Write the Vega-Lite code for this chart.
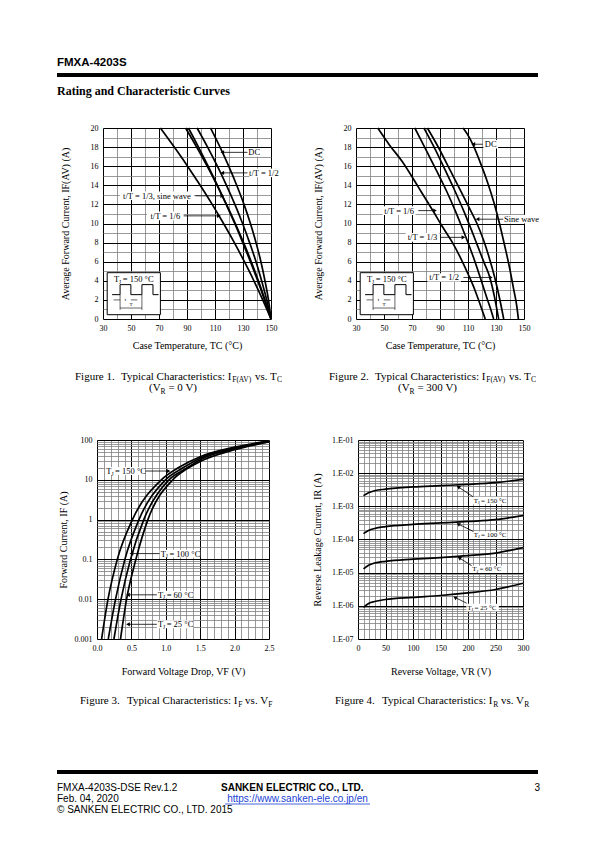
{
"$schema": "https://vega.github.io/schema/vega-lite/v6.json",
"background": "white",
"padding": 0,
"autosize": {"type": "pad"},
"bounds": "full",
"spacing": 0,
"config": {
  "view": {"stroke": null},
  "font": "Liberation Serif",
  "axis": {"labelFont": "Liberation Serif", "titleFont": "Liberation Serif", "labelFontSize": 8, "titleFontSize": 10, "titleFontWeight": "normal", "labelColor": "black", "titleColor": "black", "ticks": false, "domain": false, "gridOpacity": 1, "labelPadding": 5, "labelOverlap": false, "labelFlush": false},
  "text": {"color": "black"},
  "line": {"color": "black"},
  "rule": {"color": "black"},
  "point": {"color": "black"}
},
"datasets": {
  "c1": [
    {"s":"1/6","x":71.0,"y":20},{"s":"1/6","x":80.9,"y":18},{"s":"1/6","x":90.4,"y":16},{"s":"1/6","x":99.4,"y":14},{"s":"1/6","x":108.0,"y":12},{"s":"1/6","x":116.1,"y":10},{"s":"1/6","x":123.8,"y":8},{"s":"1/6","x":131.0,"y":6},{"s":"1/6","x":137.8,"y":4},{"s":"1/6","x":144.1,"y":2},{"s":"1/6","x":150,"y":0},
    {"s":"1/3","x":89.0,"y":20},{"s":"1/3","x":96.9,"y":18},{"s":"1/3","x":104.4,"y":16},{"s":"1/3","x":111.5,"y":14},{"s":"1/3","x":118.2,"y":12},{"s":"1/3","x":124.5,"y":10},{"s":"1/3","x":130.4,"y":8},{"s":"1/3","x":135.9,"y":6},{"s":"1/3","x":141.0,"y":4},{"s":"1/3","x":145.7,"y":2},{"s":"1/3","x":150,"y":0},
    {"s":"sine","x":91.0,"y":20},{"s":"sine","x":98.2,"y":18},{"s":"sine","x":105.1,"y":16},{"s":"sine","x":111.7,"y":14},{"s":"sine","x":118.0,"y":12},{"s":"sine","x":124.1,"y":10},{"s":"sine","x":129.8,"y":8},{"s":"sine","x":135.3,"y":6},{"s":"sine","x":140.5,"y":4},{"s":"sine","x":145.4,"y":2},{"s":"sine","x":150,"y":0},
    {"s":"1/2","x":97.2,"y":20},{"s":"1/2","x":104.7,"y":18},{"s":"1/2","x":111.7,"y":16},{"s":"1/2","x":118.2,"y":14},{"s":"1/2","x":124.2,"y":12},{"s":"1/2","x":129.7,"y":10},{"s":"1/2","x":134.7,"y":8},{"s":"1/2","x":139.3,"y":6},{"s":"1/2","x":143.3,"y":4},{"s":"1/2","x":146.9,"y":2},{"s":"1/2","x":150,"y":0},
    {"s":"DC","x":106.8,"y":20},{"s":"DC","x":113.6,"y":18},{"s":"DC","x":119.8,"y":16},{"s":"DC","x":125.5,"y":14},{"s":"DC","x":130.7,"y":12},{"s":"DC","x":135.3,"y":10},{"s":"DC","x":139.3,"y":8},{"s":"DC","x":142.8,"y":6},{"s":"DC","x":145.7,"y":4},{"s":"DC","x":148.2,"y":2},{"s":"DC","x":150,"y":0}
  ],
  "b1": [
    {"x":133.5,"x2":143,"y":17.0,"y2":17.9},
    {"x":134.5,"x2":155.5,"y":14.85,"y2":15.75},
    {"x":42,"x2":95,"y":12.45,"y2":13.35},
    {"x":61.5,"x2":87.5,"y":10.35,"y2":11.25}
  ],
  "a1": [
    {"x":115.2,"y":17.45,"x2":133.2,"y2":17.45,"d":"L"},
    {"x":115.2,"y":15.3,"x2":133.2,"y2":15.3,"d":"L"},
    {"x":115.2,"y":12.9,"x2":96,"y2":12.9,"d":"R"},
    {"x":112.8,"y":10.8,"x2":87.6,"y2":10.8,"d":"R"}
  ],
  "l1": [
    {"x":138,"y":17.45,"t":"DC"},
    {"x":144.9,"y":15.3,"t":"t/T = 1/2"},
    {"x":68.5,"y":12.9,"t":"t/T = 1/3, sine wave"},
    {"x":74.5,"y":10.8,"t":"t/T = 1/6"}
  ],
  "c2": [
    {"s":"1/6","x":45.5,"y":20},{"s":"1/6","x":54,"y":18.2},{"s":"1/6","x":63,"y":16.5},{"s":"1/6","x":75,"y":13.7},{"s":"1/6","x":85.5,"y":11.2},{"s":"1/6","x":92,"y":9.6},{"s":"1/6","x":98.5,"y":8.1},{"s":"1/6","x":105,"y":6.3},{"s":"1/6","x":110.4,"y":4.6},{"s":"1/6","x":114.5,"y":3.2},{"s":"1/6","x":118.5,"y":1.6},{"s":"1/6","x":122.3,"y":0},
    {"s":"1/3","x":72,"y":20},{"s":"1/3","x":80,"y":17.7},{"s":"1/3","x":88,"y":15.4},{"s":"1/3","x":95,"y":13.3},{"s":"1/3","x":101,"y":11.3},{"s":"1/3","x":106,"y":9.5},{"s":"1/3","x":110.5,"y":7.8},{"s":"1/3","x":115,"y":6},{"s":"1/3","x":119.5,"y":4},{"s":"1/3","x":123.5,"y":2.2},{"s":"1/3","x":126.5,"y":0.9},{"s":"1/3","x":128.3,"y":0},
    {"s":"1/2","x":78.5,"y":20},{"s":"1/2","x":86.5,"y":17.8},{"s":"1/2","x":94,"y":15.5},{"s":"1/2","x":101,"y":13.3},{"s":"1/2","x":107,"y":11.3},{"s":"1/2","x":112.5,"y":9.3},{"s":"1/2","x":117,"y":7.6},{"s":"1/2","x":121.5,"y":5.9},{"s":"1/2","x":125.5,"y":4.4},{"s":"1/2","x":128.8,"y":2.4},{"s":"1/2","x":131.9,"y":0},
    {"s":"sine","x":81,"y":20},{"s":"sine","x":89.5,"y":17.8},{"s":"sine","x":97.5,"y":15.5},{"s":"sine","x":104.5,"y":13.5},{"s":"sine","x":111,"y":11.6},{"s":"sine","x":116.4,"y":10},{"s":"sine","x":121,"y":8.3},{"s":"sine","x":125,"y":6.5},{"s":"sine","x":129,"y":4.4},{"s":"sine","x":132.5,"y":2.2},{"s":"sine","x":135.5,"y":0},
    {"s":"DC","x":106.5,"y":20},{"s":"DC","x":111,"y":19},{"s":"DC","x":114,"y":18.1},{"s":"DC","x":119,"y":16.3},{"s":"DC","x":124,"y":14.3},{"s":"DC","x":128.5,"y":12.2},{"s":"DC","x":132.5,"y":10},{"s":"DC","x":136,"y":7.8},{"s":"DC","x":139.5,"y":5.5},{"s":"DC","x":142.5,"y":3.2},{"s":"DC","x":145,"y":1.2},{"s":"DC","x":146,"y":0}
  ],
  "b2": [
    {"x":121,"x2":131.5,"y":17.85,"y2":18.75},
    {"x":135.5,"x2":161,"y":10.0,"y2":10.9},
    {"x":49,"x2":72.5,"y":10.9,"y2":11.8},
    {"x":65.5,"x2":89.5,"y":8.1,"y2":9.0},
    {"x":81,"x2":105,"y":3.9,"y2":4.8}
  ],
  "a2": [
    {"x":113.8,"y":18.3,"x2":120.5,"y2":18.3,"d":"L"},
    {"x":116.8,"y":10.45,"x2":135.2,"y2":10.45,"d":"L"},
    {"x":86.4,"y":11.35,"x2":74.5,"y2":11.35,"d":"R"},
    {"x":106.7,"y":8.55,"x2":90,"y2":8.55,"d":"R"},
    {"x":126.3,"y":4.35,"x2":106.7,"y2":4.35,"d":"R"}
  ],
  "l2": [
    {"x":126.2,"y":18.3,"t":"DC"},
    {"x":148.2,"y":10.45,"t":"Sine wave"},
    {"x":60.8,"y":11.35,"t":"t/T = 1/6"},
    {"x":77.5,"y":8.55,"t":"t/T = 1/3"},
    {"x":93,"y":4.35,"t":"t/T = 1/2"}
  ],
  "ib": [{"x":33,"x2":71,"y":0.45,"y2":4.85}],
  "wave": [
    {"o":1,"x":36.5,"y":2.55},{"o":2,"x":42.2,"y":2.55},{"o":3,"x":42.2,"y":3.6},{"o":4,"x":49.9,"y":3.6},{"o":5,"x":49.9,"y":2.55},{"o":6,"x":57.8,"y":2.55},{"o":7,"x":57.8,"y":3.6},{"o":8,"x":65.7,"y":3.6},{"o":9,"x":65.7,"y":2.55},{"o":10,"x":69.7,"y":2.55}
  ],
  "dims": [
    {"x":42.2,"y":2.55,"x2":42.2,"y2":0.95},
    {"x":57.8,"y":2.55,"x2":57.8,"y2":0.95},
    {"x":42.2,"y":1.15,"x2":57.8,"y2":1.15},
    {"x":37.5,"y":2.0,"x2":42.2,"y2":2.0},
    {"x":49.9,"y":2.0,"x2":54.5,"y2":2.0}
  ],
  "dimt": [{"x":46,"y":2.05,"t":"t"},{"x":50,"y":1.6,"t":"T"}],
  "tj12": [{"x":37.8,"y":4.15,"t":"= 150 °C"}],
  "c3": [
    {"s":"150","x":0.067,"y":0.001},{"s":"150","x":0.16,"y":0.01},{"s":"150","x":0.295,"y":0.1},{"s":"150","x":0.515,"y":1},{"s":"150","x":0.935,"y":10},{"s":"150","x":1.2,"y":21},{"s":"150","x":1.5,"y":38},{"s":"150","x":2.0,"y":66},{"s":"150","x":2.5,"y":95},
    {"s":"100","x":0.164,"y":0.001},{"s":"100","x":0.27,"y":0.01},{"s":"100","x":0.405,"y":0.1},{"s":"100","x":0.61,"y":1},{"s":"100","x":0.995,"y":10},{"s":"100","x":1.25,"y":20},{"s":"100","x":1.5,"y":35},{"s":"100","x":2.0,"y":63},{"s":"100","x":2.5,"y":93},
    {"s":"60","x":0.246,"y":0.001},{"s":"60","x":0.35,"y":0.01},{"s":"60","x":0.487,"y":0.1},{"s":"60","x":0.68,"y":1},{"s":"60","x":1.045,"y":10},{"s":"60","x":1.3,"y":19.5},{"s":"60","x":1.5,"y":32},{"s":"60","x":2.0,"y":60},{"s":"60","x":2.5,"y":91},
    {"s":"25","x":0.342,"y":0.001},{"s":"25","x":0.43,"y":0.01},{"s":"25","x":0.565,"y":0.1},{"s":"25","x":0.74,"y":1},{"s":"25","x":1.1,"y":10},{"s":"25","x":1.3,"y":18.5},{"s":"25","x":1.5,"y":29},{"s":"25","x":2.0,"y":57},{"s":"25","x":2.5,"y":89}
  ],
  "b3": [
    {"x":0.12,"x2":0.7,"y":13.2,"y2":20.9},
    {"x":0.91,"x2":1.5,"y":0.111,"y2":0.176},
    {"x":0.87,"x2":1.4,"y":0.0102,"y2":0.0163},
    {"x":0.87,"x2":1.4,"y":0.00186,"y2":0.00295}
  ],
  "a3": [
    {"x":1.04,"y":16.6,"x2":0.7,"y2":16.6,"d":"R"},
    {"x":0.5,"y":0.14,"x2":0.91,"y2":0.14,"d":"L"},
    {"x":0.45,"y":0.0129,"x2":0.87,"y2":0.0129,"d":"L"},
    {"x":0.45,"y":0.00234,"x2":0.87,"y2":0.00234,"d":"L"}
  ],
  "tj3": [
    {"x":0.135,"y":16.6,"t":"= 150 °C"},
    {"x":0.925,"y":0.14,"t":"= 100 °C"},
    {"x":0.885,"y":0.0129,"t":"= 60 °C"},
    {"x":0.885,"y":0.00234,"t":"= 25 °C"}
  ],
  "c4": [
    {"s":"150","x":10,"y":0.0021},{"s":"150","x":20,"y":0.0026},{"s":"150","x":30,"y":0.00295},{"s":"150","x":50,"y":0.0033},{"s":"150","x":100,"y":0.00385},{"s":"150","x":150,"y":0.0042},{"s":"150","x":200,"y":0.0046},{"s":"150","x":250,"y":0.0052},{"s":"150","x":300,"y":0.0065},
    {"s":"100","x":10,"y":0.00015},{"s":"100","x":20,"y":0.00019},{"s":"100","x":30,"y":0.000215},{"s":"100","x":50,"y":0.000245},{"s":"100","x":100,"y":0.000285},{"s":"100","x":150,"y":0.000315},{"s":"100","x":200,"y":0.00035},{"s":"100","x":250,"y":0.000395},{"s":"100","x":300,"y":0.00053},
    {"s":"60","x":10,"y":0.000013},{"s":"60","x":20,"y":0.000017},{"s":"60","x":30,"y":0.0000195},{"s":"60","x":50,"y":0.000022},{"s":"60","x":100,"y":0.0000255},{"s":"60","x":150,"y":0.0000285},{"s":"60","x":200,"y":0.0000325},{"s":"60","x":250,"y":0.000039},{"s":"60","x":300,"y":0.000057},
    {"s":"25","x":10,"y":0.0000009},{"s":"25","x":20,"y":0.0000012},{"s":"25","x":30,"y":0.00000135},{"s":"25","x":50,"y":0.00000155},{"s":"25","x":100,"y":0.0000018},{"s":"25","x":150,"y":0.00000205},{"s":"25","x":200,"y":0.00000245},{"s":"25","x":250,"y":0.0000031},{"s":"25","x":300,"y":0.0000048}
  ],
  "b4": [
    {"x":209,"x2":270,"y":0.00115,"y2":0.00193},
    {"x":209,"x2":272,"y":0.000104,"y2":0.000175},
    {"x":206,"x2":264,"y":0.0000098,"y2":0.0000163},
    {"x":197,"x2":256,"y":0.00000069,"y2":0.00000115}
  ],
  "a4": [
    {"x":182.4,"y":0.00385,"x2":209.7,"y2":0.00192},
    {"x":182.4,"y":0.000292,"x2":209.7,"y2":0.000175},
    {"x":184.2,"y":0.0000278,"x2":206.6,"y2":0.0000163},
    {"x":176.4,"y":0.00000179,"x2":197.6,"y2":0.0000012}
  ],
  "tj4": [
    {"x":210.5,"y":0.00149,"t":"= 150 °C"},
    {"x":210.5,"y":0.000135,"t":"= 100 °C"},
    {"x":207.5,"y":0.0000126,"t":"= 60 °C"},
    {"x":198.5,"y":0.00000089,"t":"= 25 °C"}
  ]
},
"vconcat": [
  {"hconcat": [
    {"width": 57, "height": 124, "data": {"values": []}, "mark": "rect"},
    {"vconcat": [
      {"width": 1, "height": 59, "data": {"values": []}, "mark": "rect"},
      {"width": 0.01, "height": 14, "data": {"values": [{"t": "FMXA-4203S"}]}, "mark": {"type": "text", "align": "left", "baseline": "alphabetic", "font": "Liberation Sans", "fontWeight": "bold", "fontSize": 11.5}, "encoding": {"text": {"field": "t", "type": "nominal"}}},
      {"width": 481, "height": 4, "data": {"values": []}, "mark": "rect", "view": {"fill": "black", "stroke": null}},
      {"width": 0.01, "height": 36, "data": {"values": [{"t": "Rating and Characteristic Curves"}]}, "mark": {"type": "text", "align": "left", "baseline": "alphabetic", "font": "Liberation Serif", "fontWeight": "bold", "fontSize": 12}, "encoding": {"text": {"field": "t", "type": "nominal"}}}
    ], "spacing": 0, "bounds": "flush"}
  ], "spacing": 0, "bounds": "flush"},

  {"hconcat": [
    {"width": 103, "height": 232, "data": {"values": []}, "mark": "rect"},
    {"width": 168, "height": 191,
     "encoding": {
       "x": {"field": "x", "type": "quantitative", "scale": {"domain": [30, 150], "nice": false, "zero": false},
             "axis": {"title": "Case Temperature, TC (°C)", "values": [30,40,50,60,70,80,90,100,110,120,130,140,150], "labelExpr": "datum.value % 20 == 10 ? datum.label : ''", "grid": true, "gridColor": {"condition": {"test": "datum.value % 20 == 10", "value": "#000000"}, "value": "#808080"}, "gridWidth": {"condition": {"test": "datum.value % 20 == 10", "value": 1}, "value": 0.8}, "titlePadding": 8}},
       "y": {"field": "y", "type": "quantitative", "scale": {"domain": [0, 20], "nice": false, "zero": false},
             "axis": {"title": "Average Forward Current, IF(AV) (A)", "values": [0,1,2,3,4,5,6,7,8,9,10,11,12,13,14,15,16,17,18,19,20], "labelExpr": "datum.value % 2 == 0 ? datum.label : ''", "grid": true, "gridColor": {"condition": {"test": "datum.value % 2 == 0", "value": "#000000"}, "value": "#808080"}, "gridWidth": {"condition": {"test": "datum.value % 2 == 0", "value": 1}, "value": 0.8}, "titlePadding": 20}}
     },
     "layer": [
       {"data": {"name": "b1"}, "mark": {"type": "rect", "fill": "white", "stroke": null}, "encoding": {"x2": {"field": "x2"}, "y2": {"field": "y2"}}},
       {"data": {"name": "c1"}, "mark": {"type": "line", "interpolate": "monotone", "strokeWidth": 1.7, "color": "black"}, "encoding": {"detail": {"field": "s", "type": "nominal"}}},
       {"data": {"name": "a1"}, "mark": {"type": "rule", "strokeWidth": 0.8, "color": "black"}, "encoding": {"x2": {"field": "x2"}, "y2": {"field": "y2"}}},
       {"data": {"name": "a1"}, "mark": {"type": "point", "filled": true, "size": 18, "opacity": 1, "color": "black", "strokeWidth": 0}, "encoding": {"shape": {"field": "d", "type": "nominal", "scale": {"domain": ["L", "R"], "range": ["triangle-left", "triangle-right"]}, "legend": null}}},
       {"data": {"name": "l1"}, "mark": {"type": "text", "fontSize": 8.5, "baseline": "middle"}, "encoding": {"text": {"field": "t", "type": "nominal"}}},
       {"data": {"name": "ib"}, "mark": {"type": "rect", "fill": "white", "stroke": "black", "strokeWidth": 1}, "encoding": {"x2": {"field": "x2"}, "y2": {"field": "y2"}}},
       {"data": {"name": "wave"}, "mark": {"type": "line", "strokeWidth": 1, "color": "black"}, "encoding": {"order": {"field": "o", "type": "quantitative"}}},
       {"data": {"name": "dims"}, "mark": {"type": "rule", "strokeWidth": 0.6, "color": "black"}, "encoding": {"x2": {"field": "x2"}, "y2": {"field": "y2"}}},
       {"data": {"name": "dimt"}, "mark": {"type": "text", "fontSize": 5, "baseline": "middle"}, "encoding": {"text": {"field": "t", "type": "nominal"}}},
       {"data": {"name": "tj12"}, "mark": {"type": "text", "fontSize": 8.5, "align": "left", "baseline": "middle", "text": "T"}},
       {"data": {"name": "tj12"}, "mark": {"type": "text", "fontSize": 5.3, "align": "left", "baseline": "middle", "text": "J", "dx": 5.2, "dy": 2.6}},
       {"data": {"name": "tj12"}, "mark": {"type": "text", "fontSize": 8.5, "align": "left", "baseline": "middle", "dx": 8.8}, "encoding": {"text": {"field": "t", "type": "nominal"}}}
     ]},
    {"width": 85, "height": 1, "data": {"values": []}, "mark": "rect"},
    {"width": 168, "height": 191,
     "encoding": {
       "x": {"field": "x", "type": "quantitative", "scale": {"domain": [30, 150], "nice": false, "zero": false},
             "axis": {"title": "Case Temperature, TC (°C)", "values": [30,40,50,60,70,80,90,100,110,120,130,140,150], "labelExpr": "datum.value % 20 == 10 ? datum.label : ''", "grid": true, "gridColor": {"condition": {"test": "datum.value % 20 == 10", "value": "#000000"}, "value": "#808080"}, "gridWidth": {"condition": {"test": "datum.value % 20 == 10", "value": 1}, "value": 0.8}, "titlePadding": 8}},
       "y": {"field": "y", "type": "quantitative", "scale": {"domain": [0, 20], "nice": false, "zero": false},
             "axis": {"title": "Average Forward Current, IF(AV) (A)", "values": [0,1,2,3,4,5,6,7,8,9,10,11,12,13,14,15,16,17,18,19,20], "labelExpr": "datum.value % 2 == 0 ? datum.label : ''", "grid": true, "gridColor": {"condition": {"test": "datum.value % 2 == 0", "value": "#000000"}, "value": "#808080"}, "gridWidth": {"condition": {"test": "datum.value % 2 == 0", "value": 1}, "value": 0.8}, "titlePadding": 20}}
     },
     "layer": [
       {"data": {"name": "b2"}, "mark": {"type": "rect", "fill": "white", "stroke": null}, "encoding": {"x2": {"field": "x2"}, "y2": {"field": "y2"}}},
       {"data": {"name": "c2"}, "mark": {"type": "line", "interpolate": "monotone", "strokeWidth": 1.7, "color": "black"}, "encoding": {"detail": {"field": "s", "type": "nominal"}}},
       {"data": {"name": "a2"}, "mark": {"type": "rule", "strokeWidth": 0.8, "color": "black"}, "encoding": {"x2": {"field": "x2"}, "y2": {"field": "y2"}}},
       {"data": {"name": "a2"}, "mark": {"type": "point", "filled": true, "size": 18, "opacity": 1, "color": "black", "strokeWidth": 0}, "encoding": {"shape": {"field": "d", "type": "nominal", "scale": {"domain": ["L", "R"], "range": ["triangle-left", "triangle-right"]}, "legend": null}}},
       {"data": {"name": "l2"}, "mark": {"type": "text", "fontSize": 8.5, "baseline": "middle"}, "encoding": {"text": {"field": "t", "type": "nominal"}}},
       {"data": {"name": "ib"}, "mark": {"type": "rect", "fill": "white", "stroke": "black", "strokeWidth": 1}, "encoding": {"x2": {"field": "x2"}, "y2": {"field": "y2"}}},
       {"data": {"name": "wave"}, "mark": {"type": "line", "strokeWidth": 1, "color": "black"}, "encoding": {"order": {"field": "o", "type": "quantitative"}}},
       {"data": {"name": "dims"}, "mark": {"type": "rule", "strokeWidth": 0.6, "color": "black"}, "encoding": {"x2": {"field": "x2"}, "y2": {"field": "y2"}}},
       {"data": {"name": "dimt"}, "mark": {"type": "text", "fontSize": 5, "baseline": "middle"}, "encoding": {"text": {"field": "t", "type": "nominal"}}},
       {"data": {"name": "tj12"}, "mark": {"type": "text", "fontSize": 8.5, "align": "left", "baseline": "middle", "text": "T"}},
       {"data": {"name": "tj12"}, "mark": {"type": "text", "fontSize": 5.3, "align": "left", "baseline": "middle", "text": "J", "dx": 5.2, "dy": 2.6}},
       {"data": {"name": "tj12"}, "mark": {"type": "text", "fontSize": 8.5, "align": "left", "baseline": "middle", "dx": 8.8}, "encoding": {"text": {"field": "t", "type": "nominal"}}}
     ]}
  ], "spacing": 0, "bounds": "flush"},

  {"hconcat": [
    {"width": 75, "height": 76, "data": {"values": []}, "mark": "rect"},
    {"width": 0.01, "height": 39, "data": {"values": [{}]},
     "layer": [
       {"mark": {"type": "text", "align": "left", "baseline": "alphabetic", "fontSize": 11, "text": "Figure 1."}},
       {"mark": {"type": "text", "align": "left", "baseline": "alphabetic", "fontSize": 11, "text": "Typical Characteristics: I", "dx": 46}},
       {"mark": {"type": "text", "align": "left", "baseline": "alphabetic", "fontSize": 7.5, "text": "F(AV)", "dx": 157.2, "dy": 2.5}},
       {"mark": {"type": "text", "align": "left", "baseline": "alphabetic", "fontSize": 11, "text": "vs. T", "dx": 180}},
       {"mark": {"type": "text", "align": "left", "baseline": "alphabetic", "fontSize": 7.5, "text": "C", "dx": 202, "dy": 2.5}},
       {"mark": {"type": "text", "align": "left", "baseline": "alphabetic", "fontSize": 11, "text": "(V", "dx": 74, "dy": 11.5}},
       {"mark": {"type": "text", "align": "left", "baseline": "alphabetic", "fontSize": 7.5, "text": "R", "dx": 85.6, "dy": 14}},
       {"mark": {"type": "text", "align": "left", "baseline": "alphabetic", "fontSize": 11, "text": "= 0 V)", "dx": 93.4, "dy": 11.5}}
     ]},
    {"width": 253, "height": 1, "data": {"values": []}, "mark": "rect"},
    {"width": 0.01, "height": 39, "data": {"values": [{}]},
     "layer": [
       {"mark": {"type": "text", "align": "left", "baseline": "alphabetic", "fontSize": 11, "text": "Figure 2."}},
       {"mark": {"type": "text", "align": "left", "baseline": "alphabetic", "fontSize": 11, "text": "Typical Characteristics: I", "dx": 46}},
       {"mark": {"type": "text", "align": "left", "baseline": "alphabetic", "fontSize": 7.5, "text": "F(AV)", "dx": 157.2, "dy": 2.5}},
       {"mark": {"type": "text", "align": "left", "baseline": "alphabetic", "fontSize": 11, "text": "vs. T", "dx": 180}},
       {"mark": {"type": "text", "align": "left", "baseline": "alphabetic", "fontSize": 7.5, "text": "C", "dx": 202, "dy": 2.5}},
       {"mark": {"type": "text", "align": "left", "baseline": "alphabetic", "fontSize": 11, "text": "(V", "dx": 69, "dy": 11.5}},
       {"mark": {"type": "text", "align": "left", "baseline": "alphabetic", "fontSize": 7.5, "text": "R", "dx": 80.6, "dy": 14}},
       {"mark": {"type": "text", "align": "left", "baseline": "alphabetic", "fontSize": 11, "text": "= 300 V)", "dx": 88.4, "dy": 11.5}}
     ]}
  ], "spacing": 0, "bounds": "flush"},

  {"hconcat": [
    {"width": 97, "height": 245, "data": {"values": []}, "mark": "rect"},
    {"width": 172, "height": 199,
     "encoding": {
       "x": {"field": "x", "type": "quantitative", "scale": {"domain": [0, 2.5], "nice": false, "zero": false},
             "axis": {"title": "Forward Voltage Drop, VF (V)", "values": [0,0.1,0.2,0.3,0.4,0.5,0.6,0.7,0.8,0.9,1.0,1.1,1.2,1.3,1.4,1.5,1.6,1.7,1.8,1.9,2.0,2.1,2.2,2.3,2.4,2.5], "labelExpr": "abs(datum.value*2 - round(datum.value*2)) < 0.01 ? format(datum.value, '.1f') : ''", "grid": true, "gridColor": {"condition": {"test": "abs(datum.value*2 - round(datum.value*2)) < 0.01", "value": "#000000"}, "value": "#808080"}, "gridWidth": {"condition": {"test": "abs(datum.value*2 - round(datum.value*2)) < 0.01", "value": 1}, "value": 0.8}, "titlePadding": 14}},
       "y": {"field": "y", "type": "quantitative", "scale": {"type": "log", "domain": [0.001, 100], "nice": false},
             "axis": {"title": "Forward Current, IF (A)", "values": [0.001,0.002,0.003,0.004,0.005,0.006,0.007,0.008,0.009,0.01,0.02,0.03,0.04,0.05,0.06,0.07,0.08,0.09,0.1,0.2,0.3,0.4,0.5,0.6,0.7,0.8,0.9,1,2,3,4,5,6,7,8,9,10,20,30,40,50,60,70,80,90,100], "labelExpr": "abs(log(datum.value)/LN10 - round(log(datum.value)/LN10)) < 0.01 ? format(datum.value, '~g') : ''", "grid": true, "gridColor": {"condition": {"test": "abs(log(datum.value)/LN10 - round(log(datum.value)/LN10)) < 0.01", "value": "#000000"}, "value": "#808080"}, "gridWidth": {"condition": {"test": "abs(log(datum.value)/LN10 - round(log(datum.value)/LN10)) < 0.01", "value": 1}, "value": 0.8}, "titlePadding": 6}}
     },
     "layer": [
       {"data": {"name": "b3"}, "mark": {"type": "rect", "fill": "white", "stroke": null}, "encoding": {"x2": {"field": "x2"}, "y2": {"field": "y2"}}},
       {"data": {"name": "c3"}, "mark": {"type": "line", "interpolate": "monotone", "strokeWidth": 1.7, "color": "black"}, "encoding": {"detail": {"field": "s", "type": "nominal"}}},
       {"data": {"name": "a3"}, "mark": {"type": "rule", "strokeWidth": 0.8, "color": "black"}, "encoding": {"x2": {"field": "x2"}, "y2": {"field": "y2"}}},
       {"data": {"name": "a3"}, "mark": {"type": "point", "filled": true, "size": 18, "opacity": 1, "color": "black", "strokeWidth": 0}, "encoding": {"shape": {"field": "d", "type": "nominal", "scale": {"domain": ["L", "R"], "range": ["triangle-left", "triangle-right"]}, "legend": null}}},
       {"data": {"name": "tj3"}, "mark": {"type": "text", "fontSize": 8.5, "align": "left", "baseline": "middle", "text": "T"}},
       {"data": {"name": "tj3"}, "mark": {"type": "text", "fontSize": 5.3, "align": "left", "baseline": "middle", "text": "J", "dx": 5.2, "dy": 2.6}},
       {"data": {"name": "tj3"}, "mark": {"type": "text", "fontSize": 8.5, "align": "left", "baseline": "middle", "dx": 8.8}, "encoding": {"text": {"field": "t", "type": "nominal"}}}
     ]},
    {"width": 89, "height": 1, "data": {"values": []}, "mark": "rect"},
    {"width": 165, "height": 199,
     "encoding": {
       "x": {"field": "x", "type": "quantitative", "scale": {"domain": [0, 300], "nice": false, "zero": false},
             "axis": {"title": "Reverse Voltage, VR (V)", "values": [0,10,20,30,40,50,60,70,80,90,100,110,120,130,140,150,160,170,180,190,200,210,220,230,240,250,260,270,280,290,300], "labelExpr": "datum.value % 50 == 0 ? datum.label : ''", "grid": true, "gridColor": {"condition": {"test": "datum.value % 50 == 0", "value": "#000000"}, "value": "#808080"}, "gridWidth": {"condition": {"test": "datum.value % 50 == 0", "value": 1}, "value": 0.8}, "titlePadding": 14}},
       "y": {"field": "y", "type": "quantitative", "scale": {"type": "log", "domain": [1e-7, 0.1], "nice": false},
             "axis": {"title": "Reverse Leakage Current, IR (A)", "values": [1e-7,2e-7,3e-7,4e-7,5e-7,6e-7,7e-7,8e-7,9e-7,1e-6,2e-6,3e-6,4e-6,5e-6,6e-6,7e-6,8e-6,9e-6,1e-5,2e-5,3e-5,4e-5,5e-5,6e-5,7e-5,8e-5,9e-5,1e-4,2e-4,3e-4,4e-4,5e-4,6e-4,7e-4,8e-4,9e-4,1e-3,2e-3,3e-3,4e-3,5e-3,6e-3,7e-3,8e-3,9e-3,1e-2,2e-2,3e-2,4e-2,5e-2,6e-2,7e-2,8e-2,9e-2,0.1], "labelExpr": "abs(log(datum.value)/LN10 - round(log(datum.value)/LN10)) < 0.01 ? '1.E-0' + (-round(log(datum.value)/LN10)) : ''", "grid": true, "gridColor": {"condition": {"test": "abs(log(datum.value)/LN10 - round(log(datum.value)/LN10)) < 0.01", "value": "#000000"}, "value": "#808080"}, "gridWidth": {"condition": {"test": "abs(log(datum.value)/LN10 - round(log(datum.value)/LN10)) < 0.01", "value": 1}, "value": 0.8}, "titlePadding": 9}}
     },
     "layer": [
       {"data": {"name": "b4"}, "mark": {"type": "rect", "fill": "white", "stroke": null}, "encoding": {"x2": {"field": "x2"}, "y2": {"field": "y2"}}},
       {"data": {"name": "c4"}, "mark": {"type": "line", "interpolate": "monotone", "strokeWidth": 1.7, "color": "black"}, "encoding": {"detail": {"field": "s", "type": "nominal"}}},
       {"data": {"name": "a4"}, "mark": {"type": "rule", "strokeWidth": 0.8, "color": "black"}, "encoding": {"x2": {"field": "x2"}, "y2": {"field": "y2"}}},
       {"data": {"name": "a4"}, "mark": {"type": "point", "shape": "triangle-left", "angle": 30, "filled": true, "size": 18, "opacity": 1, "color": "black", "strokeWidth": 0}},
       {"data": {"name": "tj4"}, "mark": {"type": "text", "fontSize": 7, "align": "left", "baseline": "middle", "text": "T"}},
       {"data": {"name": "tj4"}, "mark": {"type": "text", "fontSize": 4.5, "align": "left", "baseline": "middle", "text": "J", "dx": 4.3, "dy": 2.2}},
       {"data": {"name": "tj4"}, "mark": {"type": "text", "fontSize": 7, "align": "left", "baseline": "middle", "dx": 7.3}, "encoding": {"text": {"field": "t", "type": "nominal"}}}
     ]}
  ], "spacing": 0, "bounds": "flush"},

  {"hconcat": [
    {"width": 80, "height": 85, "data": {"values": []}, "mark": "rect"},
    {"width": 0.01, "height": 38, "data": {"values": [{}]},
     "layer": [
       {"mark": {"type": "text", "align": "left", "baseline": "alphabetic", "fontSize": 11, "text": "Figure 3."}},
       {"mark": {"type": "text", "align": "left", "baseline": "alphabetic", "fontSize": 11, "text": "Typical Characteristics: I", "dx": 47}},
       {"mark": {"type": "text", "align": "left", "baseline": "alphabetic", "fontSize": 7.5, "text": "F", "dx": 158.2, "dy": 2.5}},
       {"mark": {"type": "text", "align": "left", "baseline": "alphabetic", "fontSize": 11, "text": "vs. V", "dx": 165.1}},
       {"mark": {"type": "text", "align": "left", "baseline": "alphabetic", "fontSize": 7.5, "text": "F", "dx": 188.3, "dy": 2.5}}
     ]},
    {"width": 254, "height": 1, "data": {"values": []}, "mark": "rect"},
    {"width": 0.01, "height": 38, "data": {"values": [{}]},
     "layer": [
       {"mark": {"type": "text", "align": "left", "baseline": "alphabetic", "fontSize": 11, "text": "Figure 4."}},
       {"mark": {"type": "text", "align": "left", "baseline": "alphabetic", "fontSize": 11, "text": "Typical Characteristics: I", "dx": 47}},
       {"mark": {"type": "text", "align": "left", "baseline": "alphabetic", "fontSize": 7.5, "text": "R", "dx": 158.2, "dy": 2.5}},
       {"mark": {"type": "text", "align": "left", "baseline": "alphabetic", "fontSize": 11, "text": "vs. V", "dx": 166}},
       {"mark": {"type": "text", "align": "left", "baseline": "alphabetic", "fontSize": 7.5, "text": "R", "dx": 189.2, "dy": 2.5}}
     ]}
  ], "spacing": 0, "bounds": "flush"},

  {"hconcat": [
    {"width": 57, "height": 4, "data": {"values": []}, "mark": "rect"},
    {"width": 481, "height": 4, "data": {"values": []}, "mark": "rect", "view": {"fill": "black", "stroke": null}}
  ], "spacing": 0, "bounds": "flush"},

  {"hconcat": [
    {"width": 57, "height": 40, "data": {"values": []}, "mark": "rect"},
    {"width": 0.01, "height": 34, "data": {"values": [{"t": "FMXA-4203S-DSE Rev.1.2\nFeb. 04, 2020\n© SANKEN ELECTRIC CO., LTD. 2015"}]}, "mark": {"type": "text", "align": "left", "baseline": "alphabetic", "font": "Liberation Sans", "fontSize": 10, "lineBreak": "\n", "lineHeight": 11}, "encoding": {"text": {"field": "t", "type": "nominal"}}},
    {"width": 163, "height": 1, "data": {"values": []}, "mark": "rect"},
    {"width": 0.01, "height": 34, "data": {"values": [{"t": "SANKEN ELECTRIC CO., LTD."}]}, "mark": {"type": "text", "align": "left", "baseline": "alphabetic", "font": "Liberation Sans", "fontWeight": "bold", "fontSize": 10}, "encoding": {"text": {"field": "t", "type": "nominal"}}},
    {"width": 3, "height": 1, "data": {"values": []}, "mark": "rect"},
    {"width": 145, "height": 30, "data": {"values": [{"t": "https://www.sanken-ele.co.jp/en", "u": 0}]},
     "layer": [
       {"mark": {"type": "text", "align": "center", "baseline": "alphabetic", "font": "Liberation Sans", "fontSize": 10, "color": "#1a3fd6", "dy": 13}, "encoding": {"text": {"field": "t", "type": "nominal"}}},
       {"mark": {"type": "rule", "color": "#1a3fd6", "strokeWidth": 0.8}, "encoding": {"y": {"field": "u", "type": "quantitative", "scale": {"domain": [0, 1]}, "axis": null}}}
     ]},
    {"width": 170, "height": 1, "data": {"values": []}, "mark": "rect"},
    {"width": 0.01, "height": 34, "data": {"values": [{"t": "3"}]}, "mark": {"type": "text", "align": "right", "baseline": "alphabetic", "font": "Liberation Sans", "fontSize": 10}, "encoding": {"text": {"field": "t", "type": "nominal"}}}
  ], "spacing": 0, "bounds": "flush"}
]
}
